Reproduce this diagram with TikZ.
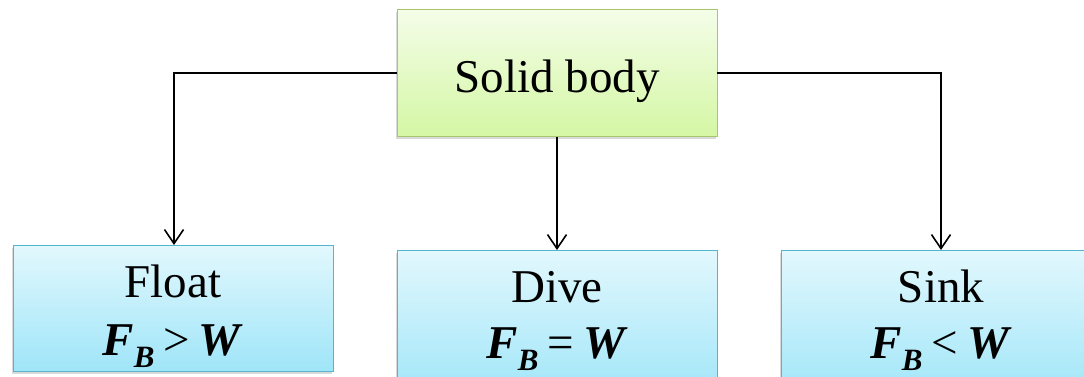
\documentclass[tikz,border=0pt]{standalone}
\usepackage{fontspec}
\setmainfont{Liberation Serif}
\usetikzlibrary{arrows.meta,shadows}
\definecolor{greentop}{HTML}{F4FDE8}
\definecolor{greenbot}{HTML}{D4F7A4}
\definecolor{greenline}{HTML}{A6C86A}
\definecolor{bluetop}{HTML}{E2F8FD}
\definecolor{bluebot}{HTML}{9FE5F8}
\definecolor{blueline}{HTML}{55B4CE}
\tikzset{
  topbox/.style={draw=greenline, line width=1pt,
    top color=greentop, bottom color=greenbot,
    drop shadow={shadow xshift=-1pt, shadow yshift=-2.5pt, opacity=0.3}},
  casebox/.style={draw=blueline, line width=1pt,
    top color=bluetop, bottom color=bluebot,
    drop shadow={shadow xshift=-1pt, shadow yshift=-2.5pt, opacity=0.3}},
  link/.style={line width=1.6pt, -{Straight Barb[length=14pt,width=19pt,line width=1.6pt]}},
  label/.style={font=\fontsize{47}{50}\selectfont, inner sep=0pt},
}
\newcommand{\fbw}[1]{\textbf{\textit{F}}\raisebox{-12pt}{\fontsize{31}{33}\selectfont\textbf{\textit{B}}}\hspace{9pt}#1\hspace{9pt}\textbf{\textit{W}}}
\begin{document}
\begin{tikzpicture}[x=1pt,y=-1pt]
  \useasboundingbox (0,0) rectangle (1084,377);
  % boxes
  \path[topbox] (397,10) rectangle (717,137);
  \coordinate (topL) at (397,73);
  \coordinate (topR) at (717,73);
  \coordinate (topB) at (557,137);
  \path[casebox] (13,245) rectangle (333,371);
  \path[casebox] (397,250) rectangle (717,400);
  \path[casebox] (781,250) rectangle (1100,400);
  % labels
  \node[label, anchor=base] (solid) at (557,93) {Solid body};
  \node[label, anchor=base] (float) at (173,297) {Float};
  \node[label, anchor=base] (floatf) at (173,355) {\fbw{>}};
  \node[label, anchor=base] (dive) at (557,302) {Dive};
  \node[label, anchor=base] (divef) at (557,358) {\fbw{=}};
  \node[label, anchor=base] (sink) at (941,302) {Sink};
  \node[label, anchor=base] (sinkf) at (941,358) {\fbw{<}};
  % connector end points
  \coordinate (floatT) at (174,245);
  \coordinate (diveT) at (557,250);
  \coordinate (sinkT) at (941,250);
  % connectors
  \draw[link] (topL) -| (floatT);
  \draw[link] (topB) -- (diveT);
  \draw[link] (topR) -| (sinkT);
\end{tikzpicture}
\end{document}
